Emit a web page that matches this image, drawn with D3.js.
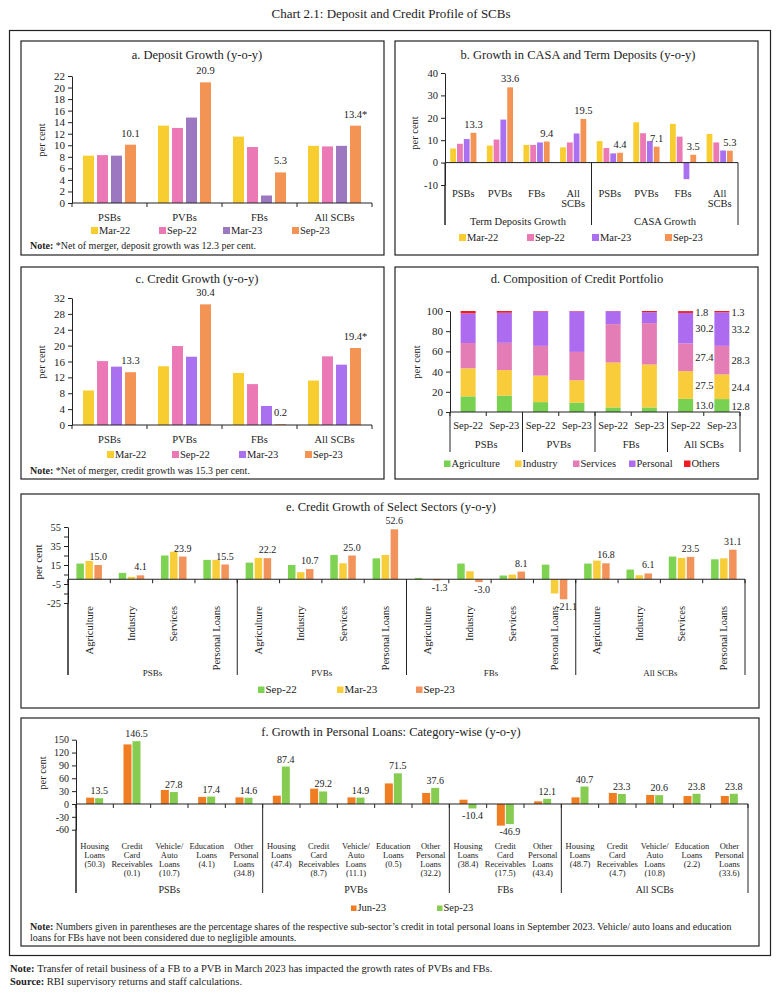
<!DOCTYPE html>
<html>
<head>
<meta charset="utf-8">
<script src="https://cdn.jsdelivr.net/npm/d3@7"></script>
<style>
  body { margin: 0; background: #fff; }
  text { font-family: "Liberation Serif", serif; fill: #222; }
</style>
</head>
<body>
<script>
// ---- data ----
var banks = ['PSBs', 'PVBs', 'FBs', 'All SCBs'];
var periods4 = ['Mar-22', 'Sep-22', 'Mar-23', 'Sep-23'];

// a. deposit growth, rows = banks, cols = periods4
var depositGrowth = [[8.2, 8.3, 8.2, 10.1], [13.4, 13.0, 14.8, 20.9], [11.5, 9.7, 1.3, 5.3], [9.9, 9.8, 9.9, 13.4]];
var depositLabels = ['10.1', '20.9', '5.3', '13.4*'];

// b. term deposits / CASA growth
var depGroups = ['Term Deposits Growth', 'CASA Growth'];
var termGrowth = [[6.3, 8.4, 10.5, 13.3], [7.6, 10.3, 19.2, 33.6], [7.9, 7.9, 9.0, 9.4], [6.8, 9.0, 13.0, 19.5]];
var casaGrowth = [[9.6, 6.5, 4.1, 4.4], [18.0, 13.1, 9.6, 7.1], [17.3, 11.6, -7.4, 3.5], [12.8, 9.0, 5.4, 5.3]];

// c. credit growth
var creditGrowth = [[8.7, 16.1, 14.7, 13.3], [14.8, 19.9, 17.2, 30.4], [13.1, 10.3, 4.8, 0.2], [11.2, 17.3, 15.2, 19.4]];
var creditLabels = ['13.3', '30.4', '0.2', '19.4*'];

// d. composition of credit portfolio (per cent), rows = bank x period
var sectors = ['Agriculture', 'Industry', 'Services', 'Personal', 'Others'];
var compPeriods = ['Sep-22', 'Sep-23'];
var composition = [
  [15.5, 27.8, 25.0, 29.3, 2.4], [16.3, 25.2, 27.0, 29.8, 1.7],
  [9.8, 26.2, 29.5, 34.0, 0.5], [9.3, 22.2, 28.0, 40.1, 0.4],
  [4.5, 44.5, 38.0, 12.8, 0.2], [4.5, 42.5, 41.0, 10.8, 1.2],
  [13.0, 27.5, 27.4, 30.2, 1.8], [12.8, 24.4, 28.3, 33.2, 1.3]
];

// e. credit growth of select sectors
var selSectors = ['Agriculture', 'Industry', 'Services', 'Personal Loans'];
var periods3 = ['Sep-22', 'Mar-23', 'Sep-23'];
var sectorGrowth = [
  [16.5, 19.3, 15.0], [6.7, 2.5, 4.1], [25.0, 29.0, 23.9], [20.4, 20.4, 15.5],
  [17.5, 22.5, 22.2], [15.0, 7.4, 10.7], [25.6, 16.8, 25.0], [22.0, 25.6, 52.6],
  [1.4, 0.0, -1.3], [16.5, 8.4, -3.0], [3.9, 4.9, 8.1], [15.4, -15.0, -21.1],
  [16.5, 19.6, 16.8], [10.2, 4.2, 6.1], [23.9, 22.5, 23.5], [21.0, 22.0, 31.1]
];

// f. personal loans
var loanPeriods = ['Jun-23', 'Sep-23'];
var loanTypes = ['Housing Loans', 'Credit Card Receivables', 'Vehicle/ Auto Loans', 'Education Loans', 'Other Personal Loans'];
var loanTypesFB = ['Housing Loans', 'Credit Card Receivables', 'Other Personal Loans'];
var loanShares = [[50.3, 0.1, 10.7, 4.1, 34.8], [47.4, 8.7, 11.1, 0.5, 32.2], [38.4, 17.5, 43.4], [48.7, 4.7, 10.8, 2.2, 33.6]];
var loanJun23 = [[14.8, 139, 32.7, 16.5, 15.5], [19.4, 35.8, 15.5, 48, 25.7], [10, -50.5, 6.2], [15.5, 25.7, 21, 18.7, 18.7]];
var loanSep23 = [[13.5, 146.5, 27.8, 17.4, 14.6], [87.4, 29.2, 14.9, 71.5, 37.6], [-10.4, -46.9, 12.1], [40.7, 23.3, 20.6, 23.8, 23.8]];

// ---- helpers ----
var svg = d3.select('body').append('svg').attr('width', 782).attr('height', 993);
var ink = '#222';

function txt(g, x, y, s, size, anchor) {
  return g.append('text').attr('x', x).attr('y', y).attr('font-size', size)
    .attr('text-anchor', anchor || 'middle').text(s);
}
function line(g, x1, y1, x2, y2) {
  g.append('line').attr('x1', x1).attr('y1', y1).attr('x2', x2).attr('y2', y2)
    .attr('stroke', ink).attr('stroke-width', 1);
}
function box(x0, y0, x1, y1) {
  svg.append('rect').attr('x', x0).attr('y', y0).attr('width', x1 - x0).attr('height', y1 - y0)
    .attr('fill', 'none').attr('stroke', ink).attr('stroke-width', 1.2);
}
function yAxis(g, y, x, ticks, size, fmt) {
  var ax = d3.axisLeft(y).tickValues(ticks).tickSize(4).tickSizeOuter(0).tickPadding(3)
    .tickFormat(fmt || function(d) { return String(d); });
  var a = g.append('g').attr('transform', 'translate(' + x + ',0)').call(ax);
  a.attr('font-family', 'Liberation Serif').attr('font-size', size);
  a.select('.domain').attr('stroke', ink);
  a.selectAll('.tick line').attr('stroke', ink);
  a.selectAll('.tick text').attr('fill', ink);
  return a;
}
function yLabel(g, x, y, s, size) {
  g.append('text').attr('transform', 'translate(' + x + ',' + y + ') rotate(-90)')
    .attr('text-anchor', 'middle').attr('font-size', size).text(s);
}
// x axis base line with small ticks at band edges
function xBase(g, x0, y0, tick) {
  var r = x0.range();
  line(g, r[0], y0, r[1], y0);
  x0.domain().forEach(function(k) { line(g, x0(k), y0, x0(k), y0 + tick); });
  line(g, r[1], y0, r[1], y0 + tick);
}
function inner(series, barW, gap) {
  var step = barW + gap, n = series.length;
  return d3.scaleBand().domain(series).range([-n * step / 2, n * step / 2])
    .paddingInner(gap / step).paddingOuter(gap / step / 2);
}
// grouped bars; vals[i][j] for key i, series j
function bars(g, keys, series, vals, colors, x0, y, barW, gap) {
  var x1 = inner(series, barW, gap);
  var rows = keys.map(function(k, i) { return { key: k, vals: vals[i] }; });
  g.selectAll(null).data(rows).enter().append('g')
    .attr('transform', function(d) { return 'translate(' + (x0(d.key) + x0.bandwidth() / 2) + ',0)'; })
    .selectAll('rect').data(function(d) { return d.vals.map(function(v, j) { return { s: series[j], v: v }; }); })
    .enter().append('rect')
    .attr('x', function(d) { return x1(d.s); })
    .attr('y', function(d) { return y(Math.max(0, d.v)); })
    .attr('width', x1.bandwidth())
    .attr('height', function(d) { return Math.abs(y(d.v) - y(0)); })
    .attr('fill', function(d, j) { return colors[j]; });
  return x1;
}
function valueLabels(g, keys, series, s, vals, labels, x0, x1, y, size, above, below, dxNeg) {
  keys.forEach(function(k, i) {
    var v = vals[i];
    var cx = x0(k) + x0.bandwidth() / 2 + x1(s) + x1.bandwidth() / 2;
    var ty = v >= 0 ? y(v) - above : y(v) + below;
    txt(g, cx + (v < 0 ? (dxNeg || 0) : 0), ty, labels ? labels[i] : v.toFixed(1), size);
  });
}
function legend(g, names, colors, xs, y, sq, size) {
  names.forEach(function(n, i) {
    g.append('rect').attr('x', xs[i]).attr('y', y - sq).attr('width', sq).attr('height', sq).attr('fill', colors[i]);
    txt(g, xs[i] + sq + 1, y, n, size, 'start');
  });
}
function note(g, x, y, head, body, size) {
  var n = txt(g, x, y, '', size, 'start');
  n.append('tspan').attr('font-weight', 'bold').text(head);
  n.append('tspan').text(body);
}
function col(m, j) { return m.map(function(r) { return r[j]; }); }

// ---- frame & title ----
svg.append('rect').attr('x', 9.5).attr('y', 30.5).attr('width', 761).attr('height', 925)
  .attr('fill', 'none').attr('stroke', ink).attr('stroke-width', 1.2);
txt(svg, 391, 18, 'Chart 2.1: Deposit and Credit Profile of SCBs', 13);

box(21, 41, 384, 255); box(395, 41, 758, 255);
box(21, 267, 384, 479); box(395, 267, 758, 479);
box(21, 494, 759, 708); box(21, 718, 759, 946);

// ---- a. deposit growth ----
(function() {
  var g = svg.append('g');
  var colors = ['#F7CD2F', '#EA79B5', '#9B78C0', '#F39454'];
  var y = d3.scaleLinear().domain([0, 22]).range([203, 76]);
  var x0 = d3.scaleBand().domain(banks).range([72, 372]);
  var x1 = bars(g, banks, periods4, depositGrowth, colors, x0, y, 11, 3);
  yAxis(g, y, 72, d3.range(0, 23, 2), 11);
  xBase(g, x0, 203, 4);
  banks.forEach(function(b) { txt(g, x0(b) + x0.bandwidth() / 2, 221, b, 10.5); });
  valueLabels(g, banks, periods4, 'Sep-23', col(depositGrowth, 3), depositLabels, x0, x1, y, 10.5, 8);
  txt(g, 197, 59, 'a. Deposit Growth (y-o-y)', 12.5);
  yLabel(g, 45, 140, 'per cent', 10.5);
  legend(g, periods4, colors, [91, 159, 223, 292], 234, 7, 10.5);
  note(g, 30, 249, 'Note: ', '*Net of merger, deposit growth was 12.3 per cent.', 10);
})();

// ---- b. CASA and term deposits ----
(function() {
  var g = svg.append('g');
  var colors = ['#F7CD2F', '#EA79B5', '#A970F0', '#F39454'];
  var keys = banks.map(function(b) { return 'T|' + b; }).concat(banks.map(function(b) { return 'C|' + b; }));
  var vals = termGrowth.concat(casaGrowth);
  var y = d3.scaleLinear().domain([-10, 40]).range([185, 73]);
  var x0 = d3.scaleBand().domain(keys).range([445, 738]);
  var x1 = bars(g, keys, periods4, vals, colors, x0, y, 5.8, 1);
  yAxis(g, y, 445, d3.range(-10, 41, 10), 10.5);
  line(g, 445, 185, 445, 225);
  line(g, 445, y(0), 738, y(0));
  [445, 591.5, 738].forEach(function(x) { line(g, x, y(0), x, 225); });
  keys.forEach(function(k) {
    var b = k.split('|')[1], cx = x0(k) + x0.bandwidth() / 2;
    if (b === 'All SCBs') { txt(g, cx, 197, 'All', 10.5); txt(g, cx, 207, 'SCBs', 10.5); }
    else txt(g, cx, 197, b, 10.5);
  });
  txt(g, 518, 225, depGroups[0], 10.5);
  txt(g, 665, 225, depGroups[1], 10.5);
  valueLabels(g, keys, periods4, 'Sep-23', col(vals, 3), null, x0, x1, y, 10.5, 5);
  txt(g, 578, 59, 'b. Growth in CASA and Term Deposits (y-o-y)', 12.5);
  yLabel(g, 418, 133, 'per cent', 10.5);
  legend(g, periods4, colors, [459, 527, 592, 665], 241, 7, 10.5);
})();

// ---- c. credit growth ----
(function() {
  var g = svg.append('g');
  var colors = ['#F7CD2F', '#EA79B5', '#A970F0', '#F39454'];
  var y = d3.scaleLinear().domain([0, 32]).range([425, 298]);
  var x0 = d3.scaleBand().domain(banks).range([72, 372]);
  var x1 = bars(g, banks, periods4, creditGrowth, colors, x0, y, 11, 3);
  yAxis(g, y, 72, d3.range(0, 33, 4), 11);
  xBase(g, x0, 425, 4);
  banks.forEach(function(b) { txt(g, x0(b) + x0.bandwidth() / 2, 443, b, 10.5); });
  valueLabels(g, banks, periods4, 'Sep-23', col(creditGrowth, 3), creditLabels, x0, x1, y, 10.5, 8);
  txt(g, 197, 283, 'c. Credit Growth (y-o-y)', 12.5);
  yLabel(g, 45, 362, 'per cent', 10.5);
  legend(g, periods4, colors, [107, 172, 239, 305], 458, 7, 10.5);
  note(g, 30, 474, 'Note: ', '*Net of merger, credit growth was 15.3 per cent.', 10);
})();

// ---- d. composition of credit portfolio ----
(function() {
  var g = svg.append('g');
  var colors = ['#79D152', '#F8CC3A', '#E47DB5', '#AD6CF0', '#EE1C25'];
  var keys = [];
  banks.forEach(function(b) { compPeriods.forEach(function(p) { keys.push(b + '|' + p); }); });
  var rows = composition.map(function(r, i) {
    var o = { key: keys[i] };
    sectors.forEach(function(s, j) { o[s] = r[j]; });
    return o;
  });
  var stack = d3.stack().keys(sectors)(rows);
  var y = d3.scaleLinear().domain([0, 100]).range([412, 311]);
  var x0 = d3.scaleBand().domain(keys).range([450, 740]);
  var bw = 15;
  g.selectAll(null).data(stack).enter().append('g').attr('fill', function(d, i) { return colors[i]; })
    .selectAll('rect').data(function(d) { return d; }).enter().append('rect')
    .attr('x', function(d) { return x0(d.data.key) + x0.bandwidth() / 2 - bw / 2; })
    .attr('y', function(d) { return y(d[1]); })
    .attr('width', bw)
    .attr('height', function(d) { return y(d[0]) - y(d[1]); });
  yAxis(g, y, 450, d3.range(0, 101, 20), 11);
  xBase(g, x0, 412, 4);
  banks.forEach(function(b, i) {
    var xl = x0(b + '|Sep-22');
    line(g, xl, 412, xl, 452);
    txt(g, xl + x0.bandwidth(), 448, b, 10.5);
  });
  line(g, 740, 412, 740, 452);
  keys.forEach(function(k) { txt(g, x0(k) + x0.bandwidth() / 2, 429, k.split('|')[1], 10.5); });
  // labels for All SCBs
  stack.forEach(function(layer) {
    layer.forEach(function(d) {
      if (d.data.key.indexOf('All SCBs') !== 0) return;
      var v = d[1] - d[0];
      txt(g, x0(d.data.key) + x0.bandwidth() / 2 + bw / 2 + 2, y((d[0] + d[1]) / 2) + 4, v.toFixed(1), 10.5, 'start');
    });
  });
  txt(g, 577, 283, 'd. Composition of Credit Portfolio', 12.5);
  yLabel(g, 420, 362, 'per cent', 10.5);
  legend(g, sectors, colors, [444, 515, 573, 629, 684], 467, 6.5, 10.5);
})();

// ---- e. credit growth of select sectors ----
(function() {
  var g = svg.append('g');
  var colors = ['#7ED352', '#F8CD3A', '#F1935B'];
  var keys = [];
  banks.forEach(function(b) { selSectors.forEach(function(s) { keys.push(b + '|' + s); }); });
  var y = d3.scaleLinear().domain([-25, 55]).range([603, 527]);
  var x0 = d3.scaleBand().domain(keys).range([68, 745]);
  var x1 = bars(g, keys, periods3, sectorGrowth, colors, x0, y, 7.5, 1.5);
  yAxis(g, y, 68, d3.range(-25, 56, 10), 10.5, function(d) { return (d + 25) % 20 === 0 ? String(d) : ''; });
  line(g, 68, 603, 68, 675);
  xBase(g, x0, y(0), 4);
  banks.forEach(function(b) {
    var xl = x0(b + '|' + selSectors[0]);
    line(g, xl, y(0), xl, 675);
    txt(g, xl + 2 * x0.bandwidth(), 676, b, 9);
  });
  line(g, 745, y(0), 745, 675);
  keys.forEach(function(k) {
    var cx = x0(k) + x0.bandwidth() / 2 + 3.5;
    g.append('text').attr('transform', 'translate(' + cx + ',606) rotate(-90)')
      .attr('text-anchor', 'end').attr('font-size', 10.5).text(k.split('|')[1]);
  });
  valueLabels(g, keys, periods3, 'Sep-23', col(sectorGrowth, 2), null, x0, x1, y, 10, 5, 11, 3);
  txt(g, 391, 511, 'e. Credit Growth of Select Sectors (y-o-y)', 12.5);
  yLabel(g, 42, 562, 'per cent', 11);
  legend(g, periods3, colors, [258, 337, 416], 693, 6.5, 11);
})();

// ---- f. personal loans by category ----
(function() {
  var g = svg.append('g');
  var colors = ['#F07D22', '#86CC50'];
  var keys = [], vals = [], shares = [];
  banks.forEach(function(b, i) {
    var types = b === 'FBs' ? loanTypesFB : loanTypes;
    types.forEach(function(t, j) {
      keys.push(b + '|' + t);
      vals.push([loanJun23[i][j], loanSep23[i][j]]);
      shares.push(loanShares[i][j]);
    });
  });
  var y = d3.scaleLinear().domain([-60, 150]).range([829.7, 739.7]);
  var x0 = d3.scaleBand().domain(keys).range([76, 748]);
  var x1 = bars(g, keys, loanPeriods, vals, colors, x0, y, 8, 1);
  yAxis(g, y, 76, d3.range(-60, 151, 30), 10);
  line(g, 76, 829.7, 76, 893);
  xBase(g, x0, y(0), 4);
  banks.forEach(function(b) {
    var ks = keys.filter(function(k) { return k.split('|')[0] === b; });
    var xl = x0(ks[0]), xr = x0(ks[ks.length - 1]) + x0.bandwidth();
    line(g, xl, y(0), xl, 893);
    txt(g, (xl + xr) / 2, 893, b, 10);
  });
  line(g, 748, y(0), 748, 893);
  keys.forEach(function(k, i) {
    var cx = x0(k) + x0.bandwidth() / 2;
    var lines = k.split('|')[1].split(' ').concat(['(' + shares[i].toFixed(1) + ')']);
    lines.forEach(function(s, j) { txt(g, cx, 849 + j * 9, s, 8.5); });
  });
  valueLabels(g, keys, loanPeriods, 'Sep-23', col(vals, 1), null, x0, x1, y, 10, 4, 11);
  txt(g, 391, 736, 'f. Growth in Personal Loans: Category-wise (y-o-y)', 12.5);
  yLabel(g, 46, 773, 'per cent', 10.5);
  legend(g, loanPeriods, colors, [351, 437], 911, 5.5, 10.5);
  note(g, 30, 930, 'Note: ', 'Numbers given in parentheses are the percentage shares of the respective sub-sector\u2019s credit in total personal loans in September 2023. Vehicle/ auto loans and education', 10);
  txt(g, 30, 941, 'loans for FBs have not been considered due to negligible amounts.', 10, 'start');
})();

// ---- footnotes ----
note(svg, 10, 972, 'Note: ', ' Transfer of retail business of a FB to a PVB in March 2023 has impacted the growth rates of PVBs and FBs.', 10.5);
note(svg, 10, 985, 'Source: ', 'RBI supervisory returns and staff calculations.', 10.5);
</script>
</body>
</html>
